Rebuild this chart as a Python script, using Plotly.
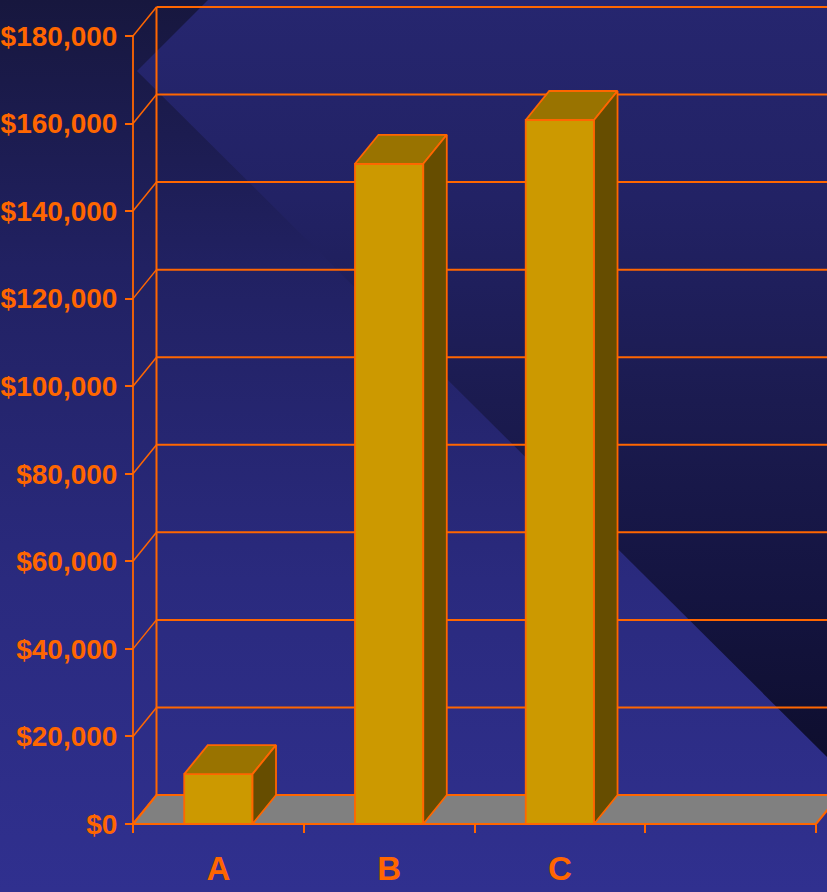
import base64
import plotly.graph_objects as go

# ---------------- data ----------------
categories = ["A", "B", "C", ""]
values = [11400, 150800, 160800]
y_tick_values = [0, 20000, 40000, 60000, 80000, 100000, 120000, 140000, 160000, 180000]
y_tick_labels = ["$0", "$20,000", "$40,000", "$60,000", "$80,000", "$100,000",
                 "$120,000", "$140,000", "$160,000", "$180,000"]

# ---------------- style / geometry ----------------
W, H = 827, 892
ORANGE = "#FF6600"
FRONT, TOP, SIDE = "#CC9900", "#997300", "#664D00"
FLOOR = "#808080"
FONT = "Liberation Sans, Arial, sans-serif"

PX_PER_CAT = 170.75
PX_PER_USD = 87.56 / 20000
AX_X_PX, AX_Y_PX = 133, 824
DX = 23.5 / PX_PER_CAT          # depth offset in category units
DY = 29 / PX_PER_USD            # depth offset in value units
BAR_W = 0.40
N = len(categories)
YMAX = y_tick_values[-1]

x_range = [-AX_X_PX / PX_PER_CAT, (W - AX_X_PX) / PX_PER_CAT]
y_range = [-(H - AX_Y_PX) / PX_PER_USD, AX_Y_PX / PX_PER_USD]

fig = go.Figure()

def line_trace(xs, ys, width=2.0):
    return go.Scatter(x=xs, y=ys, mode="lines", line=dict(color=ORANGE, width=width),
                      hoverinfo="skip", showlegend=False)

# back wall gridlines
gx, gy = [], []
for t in y_tick_values:
    gx += [DX, N + DX + 0.5, None]
    gy += [t + DY, t + DY, None]
fig.add_trace(line_trace(gx, gy))

# floor
fig.add_trace(go.Scatter(x=[0, N, N + DX, N + DX + 0.5, DX, 0],
                         y=[0, 0, DY, DY, DY, 0],
                         mode="lines", fill="toself", fillcolor=FLOOR,
                         line=dict(color=ORANGE, width=2.2),
                         hoverinfo="skip", showlegend=False))

# back wall left edge, left wall diagonals, front axis line
fig.add_trace(line_trace([DX, DX], [DY, YMAX + DY]))
dx_, dy_ = [], []
for t in y_tick_values:
    dx_ += [0, DX, None]
    dy_ += [t, t + DY, None]
fig.add_trace(line_trace(dx_, dy_, 1.5))
fig.add_trace(line_trace([0, 0], [0, YMAX], 1.8))

# 3D bars
for i, v in enumerate(values):
    c = i + 0.5
    x0, x1 = c - BAR_W / 2, c + BAR_W / 2
    faces = [
        ([x0, x1, x1, x0, x0], [0, 0, v, v, 0], FRONT),
        ([x0, x1, x1 + DX, x0 + DX, x0], [v, v, v + DY, v + DY, v], TOP),
        ([x1, x1 + DX, x1 + DX, x1, x1], [0, DY, v + DY, v, 0], SIDE),
    ]
    for fx, fy, col in faces:
        fig.add_trace(go.Scatter(x=fx, y=fy, mode="lines", fill="toself",
                                 fillcolor=col, line=dict(color=ORANGE, width=1.8),
                                 hoverinfo="skip", showlegend=False))

# ---------------- background ----------------
svg = f"""<svg xmlns='http://www.w3.org/2000/svg' width='{W}' height='{H}' viewBox='0 0 {W} {H}' preserveAspectRatio='none'>
<defs>
<linearGradient id='b' gradientUnits='userSpaceOnUse' x1='0' y1='0' x2='0' y2='{H}'>
<stop offset='0' stop-color='#17173e'/>
<stop offset='0.3' stop-color='#212162'/>
<stop offset='0.65' stop-color='#2a2a7e'/>
<stop offset='1' stop-color='#30308f'/>
</linearGradient>
<linearGradient id='d' gradientUnits='userSpaceOnUse' x1='0' y1='0' x2='0' y2='{H}'>
<stop offset='0' stop-color='#26266f'/>
<stop offset='0.22' stop-color='#222265'/>
<stop offset='0.45' stop-color='#1b1b50'/>
<stop offset='0.67' stop-color='#141440'/>
<stop offset='0.85' stop-color='#0e0e2e'/>
<stop offset='1' stop-color='#0a0a26'/>
</linearGradient>
</defs>
<rect x='0' y='0' width='{W}' height='{H}' fill='url(#b)'/>
<polygon points='137,71 208,0 {W},0 {W},757' fill='url(#d)'/>
</svg>"""
bg_src = "data:image/svg+xml;base64," + base64.b64encode(svg.encode()).decode()

fig.update_layout(
    width=W, height=H,
    margin=dict(l=0, r=0, t=0, b=0, autoexpand=False),
    paper_bgcolor="#22226a",
    plot_bgcolor="rgba(0,0,0,0)",
    showlegend=False,
    hovermode=False,
    images=[dict(source=bg_src, xref="paper", yref="paper", x=0, y=1,
                 sizex=1, sizey=1, xanchor="left", yanchor="top",
                 sizing="stretch", layer="below")],
    xaxis=dict(range=x_range, domain=[0, 1], anchor="free", automargin=False,
               position=(H - AX_Y_PX) / H,
               showgrid=False, zeroline=False, showline=False,
               tickmode="array", tickvals=[i + 0.5 for i in range(N)],
               ticktext=categories, ticks="", ticklabelstandoff=22,
               tickfont=dict(family=FONT, size=33, color=ORANGE, weight="bold"),
               minor=dict(tickmode="linear", tick0=0, dtick=1, ticks="outside",
                          ticklen=8, tickwidth=1.6, tickcolor=ORANGE, showgrid=False)),
    yaxis=dict(range=y_range, domain=[0, 1], anchor="free", automargin=False,
               position=AX_X_PX / W,
               showgrid=False, zeroline=False, showline=False,
               tickmode="array", tickvals=y_tick_values, ticktext=y_tick_labels,
               ticks="outside", ticklen=8, tickwidth=1.6, tickcolor=ORANGE,
               ticklabelstandoff=2,
               tickfont=dict(family=FONT, size=28, color=ORANGE, weight="bold")),
)

fig.write_html("out.html")
